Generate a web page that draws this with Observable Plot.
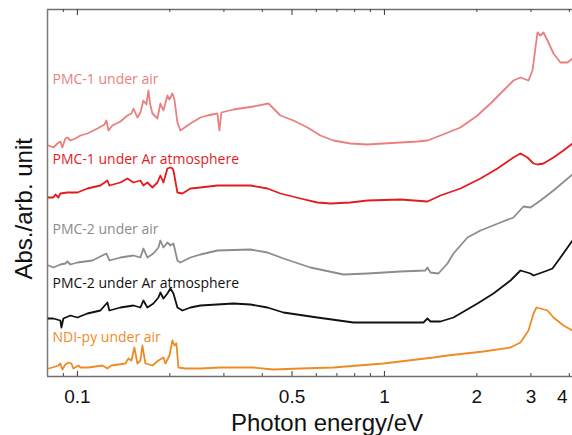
<!DOCTYPE html>
<html><head><meta charset="utf-8">
<script src="https://cdn.jsdelivr.net/npm/d3@7"></script>
<script src="https://cdn.jsdelivr.net/npm/@observablehq/plot@0.6"></script>
<style>body{margin:0;background:#fff;overflow:hidden}</style>
</head><body><div id="chart"></div>
<script>
// Photon energy (eV) and offset absorbance (arb. units)
const pmc1AirE = [0.0805,0.0835,0.0861,0.0880,0.0893,0.0914,0.0928,0.0949,0.0985,0.1023,0.1078,0.1111,0.1162,0.1225,0.1243,0.1262,0.1300,0.1381,0.1455,0.1499,0.1522,0.1568,0.1604,0.1640,0.1678,0.1703,0.1729,0.1755,0.1795,0.1822,0.1863,0.1906,0.1964,0.1994,0.2039,0.2070,0.2117,0.2165,0.2334,0.2516,0.2651,0.2857,0.2900,0.2944,0.3222,0.3744,0.4189,0.4416,0.4583,0.5053,0.5614,0.6187,0.6821,0.7748,0.8803,0.9925,1.1275,1.2808,1.3806,1.5220,1.7686,2.0090,2.2147,2.4412,2.6315,2.7733,2.9449,3.0349,3.1040,3.1508,3.2225,3.2958,3.3961,3.5524,3.7440,3.9459,4.0967];
const pmc1AirA = [231,229,233,235,229,238,239,236,238,241,243,245,248,252,256,246,251,255,261,263,268,259,264,276,272,286,271,263,260,258,273,266,281,277,283,277,254,246,253,259,261,263,246,264,267,270,273,266,261,256,249,241,236,233,232,233,234,235,236,241,249,261,273,286,296,299,296,306,329,344,341,344,336,323,314,314,318];

const pmc1ArE = [0.0805,0.0835,0.0848,0.0867,0.0880,0.0928,0.1000,0.1078,0.1188,0.1252,0.1271,0.1381,0.1455,0.1522,0.1604,0.1640,0.1690,0.1755,0.1822,0.1863,0.1906,0.1964,0.2009,0.2039,0.2055,0.2117,0.2198,0.2334,0.2516,0.2857,0.3661,0.4158,0.4583,0.5325,0.6048,0.6669,0.7748,0.8803,1.1275,1.3806,1.5220,1.7686,2.0547,2.3340,2.6315,2.7733,2.9229,3.0577,3.1508,3.2958,3.5524,3.8292,4.0967];
const pmc1ArA = [179,179,182,179,183,184,184,188,191,196,191,194,198,194,196,191,194,189,194,201,194,208,209,208,206,184,183,188,189,191,191,188,183,178,174,173,174,176,177,175,181,188,198,208,219,223,219,213,212,213,219,226,233];

const pmc2AirE = [0.0805,0.0835,0.0880,0.0914,0.0928,0.0949,0.1000,0.1119,0.1243,0.1271,0.1381,0.1522,0.1604,0.1640,0.1690,0.1768,0.1836,0.1863,0.1906,0.1964,0.2009,0.2055,0.2117,0.2165,0.2334,0.2516,0.2857,0.3661,0.4158,0.4688,0.5740,0.7355,0.8803,1.1275,1.3597,1.3806,1.4120,1.4994,1.6040,1.6782,1.8636,2.0547,2.3870,2.6315,2.8364,2.9897,3.2225,3.5524,4.0967];
const pmc2AirA = [111,109,112,113,115,112,114,116,123,116,119,121,119,128,119,123,129,136,129,134,131,133,116,114,119,122,126,127,124,118,109,102,103,105,106,109,104,103,113,123,139,146,154,159,170,169,176,186,202];

const pmc2ArE = [0.0805,0.0835,0.0880,0.0887,0.0900,0.0949,0.1000,0.1078,0.1188,0.1252,0.1271,0.1381,0.1522,0.1604,0.1640,0.1690,0.1768,0.1836,0.1863,0.1906,0.1964,0.2009,0.2055,0.2117,0.2198,0.2334,0.2516,0.3222,0.3661,0.4158,0.4688,0.6048,0.7925,1.1275,1.3398,1.3806,1.4120,1.5220,1.6782,2.0090,2.2650,2.5729,2.7733,2.9897,3.0577,3.3961,3.5259,3.7440,4.0967];
const pmc2ArA = [58,58,56,49,58,61,59,63,66,74,66,69,71,69,76,69,73,79,84,78,83,88,83,69,66,69,71,73,72,69,64,59,54,54,54,58,55,55,59,73,83,96,106,103,101,106,108,119,136];

const ndiAirE = [0.0805,0.0829,0.0848,0.0867,0.0880,0.0893,0.0914,0.0935,0.0956,0.0970,0.1008,0.1023,0.1086,0.1206,0.1252,0.1290,0.1433,0.1466,0.1499,0.1533,0.1568,0.1604,0.1628,0.1665,0.1755,0.1836,0.1906,0.1935,0.1994,0.2039,0.2070,0.2101,0.2133,0.2248,0.2516,0.2922,0.3744,0.4350,0.5325,0.6821,0.9925,1.4441,1.6040,2.1015,2.5729,2.7733,2.9449,3.0577,3.1273,3.2225,3.3961,3.5524,3.8292,4.0967];
const ndiAirA = [8,9,10,11,13,7,12,14,13,8,11,9,9,11,8,11,13,18,16,29,13,16,31,13,11,16,19,13,21,36,31,33,9,8,8,9,9,7,8,9,13,19,21,25,29,34,46,63,69,68,66,59,51,46];

const seriesNames = ["PMC-1 under air","PMC-1 under Ar atmosphere","PMC-2 under air","PMC-2 under Ar atmosphere","NDI-py under air"];
const seriesColors = ["#ea7f7f","#e31b1f","#8c8c8c","#111111","#ef8b25"];
const labelY = [293,213,143,89,35];
const labelWeight = [400,600,400,500,400];

const xMajorTicks = [0.1,0.5,1];
const xMinorTicks = [0.09,0.2,0.3,0.4,0.6,0.7,0.8,0.9,2,3,4];
const xTickLabels = [0.1,0.5,1,2,3];
const xEdgeTickLabels = [4];
const xMin = 0.0799, xMax = 4.097;
const yTitle = [{text:"Abs./arb. unit", y:97}];

const energies = [pmc1AirE,pmc1ArE,pmc2AirE,pmc2ArE,ndiAirE];
const values = [pmc1AirA,pmc1ArA,pmc2AirA,pmc2ArA,ndiAirA];
const rows = [];
seriesNames.forEach((s,i)=>energies[i].forEach((e,j)=>rows.push({series:s,energy:e,abs:values[i][j]})));
const labels = seriesNames.map((s,i)=>({series:s,y:labelY[i],color:seriesColors[i],w:labelWeight[i]}));

const yTop = 367;
const tickFont = {fontSize:19,fontFamily:"Liberation Sans",fill:"#111",lineAnchor:"bottom",frameAnchor:"bottom",dy:26,text:d=>String(d)};
const chart = Plot.plot({
  width:572, height:435,
  marginLeft:47, marginRight:0, marginTop:9, marginBottom:59,
  style:{background:"#fff"},
  x:{type:"log", domain:[xMin,xMax], axis:null},
  y:{domain:[0,yTop], axis:null},
  marks:[
    Plot.ruleY([0,yTop],{stroke:"#6f6f6f",strokeWidth:1.3}),
    Plot.ruleX([xMin],{y1:0,y2:yTop,stroke:"#7a7a7a",strokeWidth:1.5}),
    Plot.ruleX(xMajorTicks,{y1:0,y2:5,stroke:"#444",strokeWidth:1.1}),
    Plot.ruleX(xMinorTicks,{y1:0,y2:3,stroke:"#444",strokeWidth:1}),
    Plot.ruleX(xMajorTicks,{y1:yTop,y2:yTop-6,stroke:"#444",strokeWidth:1.1}),
    Plot.ruleX(xMinorTicks,{y1:yTop,y2:yTop-3,stroke:"#444",strokeWidth:1}),
    Plot.line(rows,{x:"energy",y:"abs",z:"series",stroke:d=>seriesColors[seriesNames.indexOf(d.series)],strokeWidth:1.8,strokeLinejoin:"round"}),
    Plot.text(labels,{y:"y",frameAnchor:"left",dx:5,text:"series",fill:"color",fontWeight:"w",textAnchor:"start",lineAnchor:"bottom",fontSize:14,fontFamily:"Open Sans"}),
    Plot.text(xTickLabels,{x:d=>d,...tickFont}),
    Plot.text(xEdgeTickLabels,{x:d=>d,...tickFont,dx:-7}),
    Plot.text(["Photon energy/eV"],{frameAnchor:"bottom",textAnchor:"middle",dx:17,dy:54,fontSize:24,fontFamily:"Liberation Sans",fill:"#111",lineAnchor:"bottom"}),
    Plot.text(yTitle,{x:()=>xMin,y:"y",text:"text",textAnchor:"start",rotate:-90,dx:-16,fontSize:24,fontFamily:"Liberation Sans",fill:"#111",lineAnchor:"bottom"})
  ]
});
document.getElementById("chart").appendChild(chart);
</script>
</body></html>
